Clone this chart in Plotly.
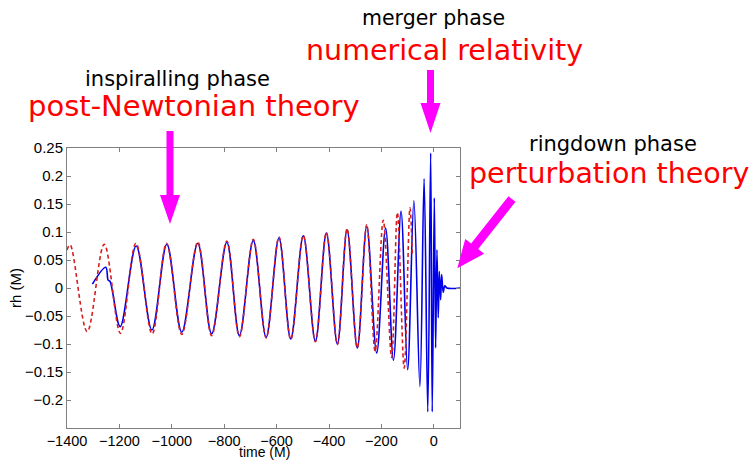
import plotly.graph_objects as go

# ---- data (extrema of the waveforms) ----
nr_time = [-1303, -1252, -1243, -1236, -1197, -1136, -1076, -1019, -962, -901,
           -848, -790, -742, -689, -640, -591, -546, -498, -452, -410,
           -368, -331, -292, -256, -218, -184, -154, -125, -100, -76,
           -53, -37, -23, -12, -6, 2, 7, 12, 17, 21,
           26, 30, 36, 42, 50, 100]
nr_rh = [0.007, 0.037, 0.014, 0.012, -0.069, 0.075, -0.075, 0.078, -0.079, 0.080,
         -0.082, 0.082, -0.085, 0.085, -0.088, 0.089, -0.091, 0.093, -0.095, 0.098,
         -0.100, 0.104, -0.107, 0.110, -0.116, 0.107, -0.129, 0.137, -0.146, 0.156,
         -0.176, 0.195, -0.221, 0.241, -0.221, 0.161, -0.107, 0.068, -0.053, 0.030,
         -0.021, 0.024, -0.008, 0.004, 0.0, 0.0]

pn_time = [-1400, -1388, -1323, -1258, -1196, -1137, -1075, -1020, -962, -901,
           -848, -790, -742, -689, -640, -591, -546, -498, -452, -410,
           -368, -331, -292, -256, -224, -193, -161, -139, -113, -91, -82]
pn_rh = [0.068, 0.077, -0.078, 0.078, -0.081, 0.080, -0.082, 0.080, -0.083, 0.082,
         -0.085, 0.084, -0.087, 0.087, -0.089, 0.091, -0.092, 0.094, -0.096, 0.099,
         -0.101, 0.106, -0.107, 0.113, -0.113, 0.121, -0.124, 0.135, -0.143, 0.143, 0.06]

x_ticks = [-1400, -1200, -1000, -800, -600, -400, -200, 0]
x_ticklabels = ["\u22121400", "\u22121200", "\u22121000", "\u2212800", "\u2212600", "\u2212400", "\u2212200", "0"]
y_ticks = [-0.2, -0.15, -0.1, -0.05, 0, 0.05, 0.1, 0.15, 0.2, 0.25]
y_ticklabels = ["\u22120.2", "\u22120.15", "\u22120.1", "\u22120.05", "0", "0.05", "0.1", "0.15", "0.2", "0.25"]

# ---- layout geometry (pixels) ----
W, H = 754, 461
L, R, T, B = 67, 460, 148, 428


def pxx(x):
    return (x - L) / (R - L)


def pxy(y):
    return (B - y) / (B - T)


def arrow_path(tail, tip, shaft_hw, head_len, head_hw):
    tx, ty = tail
    hx, hy = tip
    dx, dy = hx - tx, hy - ty
    n = (dx * dx + dy * dy) ** 0.5
    ux, uy = dx / n, dy / n
    nx, ny = -uy, ux
    bx, by = hx - ux * head_len, hy - uy * head_len
    pts = [
        (tx + nx * shaft_hw, ty + ny * shaft_hw),
        (bx + nx * shaft_hw, by + ny * shaft_hw),
        (bx + nx * head_hw, by + ny * head_hw),
        (hx, hy),
        (bx - nx * head_hw, by - ny * head_hw),
        (bx - nx * shaft_hw, by - ny * shaft_hw),
        (tx - nx * shaft_hw, ty - ny * shaft_hw),
    ]
    s = "M " + " L ".join(f"{pxx(x):.5f},{pxy(y):.5f}" for x, y in pts) + " Z"
    return s


fig = go.Figure()
fig.add_trace(go.Scatter(x=nr_time, y=nr_rh, mode="lines",
                         line=dict(color="rgb(0,0,235)", width=1.6, shape="spline", smoothing=1.0),
                         showlegend=False, hoverinfo="skip"))
fig.add_trace(go.Scatter(x=pn_time, y=pn_rh, mode="lines",
                         line=dict(color="rgb(215,30,30)", width=1.6, dash="4px,3px", shape="spline", smoothing=1.0),
                         showlegend=False, hoverinfo="skip"))

axis_common = dict(showline=True, mirror="ticks", linecolor="#808080", linewidth=1,
                   ticks="inside", ticklen=4, tickcolor="#808080", showgrid=False,
                   zeroline=False)

fig.update_xaxes(range=[-1400, 100], tickmode="array", tickvals=x_ticks, ticktext=x_ticklabels,
                 tickfont=dict(family="Liberation Sans", size=14.5, color="black"),
                 **axis_common)
fig.update_yaxes(range=[-0.25, 0.25], tickmode="array", tickvals=y_ticks, ticktext=y_ticklabels,
                 tickfont=dict(family="Liberation Sans", size=15, color="black"),
                 ticklabelstandoff=0, **axis_common)

ann = []


def add_text(text, cx, cy, size, color, family="DejaVu Sans", angle=0):
    ann.append(dict(text=text, x=pxx(cx), y=pxy(cy), xref="paper", yref="paper",
                    xanchor="center", yanchor="middle", showarrow=False, textangle=angle,
                    font=dict(family=family, size=size, color=color)))


add_text("merger phase", 433, 18, 20.5, "black")
add_text("numerical relativity", 444, 50.5, 28.5, "red")
add_text("inspiralling phase", 177, 79, 21, "black")
add_text("post-Newtonian theory", 194, 106, 29, "red")
add_text("ringdown phase", 612.5, 144, 21, "black")
add_text("perturbation theory", 609, 173, 28.5, "red")
add_text("time (M)", 264, 452, 14, "black", family="Liberation Sans")
add_text("rh (M)", 15, 288, 15, "black", family="Liberation Sans", angle=-90)

shapes = []
for tail, tip, shw, hl, hhw in [((170, 131), (170, 224), 3.5, 29, 10),
                                ((430.5, 70), (430.5, 133), 3.5, 30, 10),
                                ((512, 199), (457.3, 268.3), 4.5, 28, 12)]:
    shapes.append(dict(type="path", xref="paper", yref="paper",
                       path=arrow_path(tail, tip, shw, hl, hhw),
                       fillcolor="#ff00ff", line=dict(width=0)))

fig.update_layout(width=W, height=H, autosize=False,
                  margin=dict(l=L, r=W - R, t=T, b=H - B, pad=0),
                  paper_bgcolor="white", plot_bgcolor="white",
                  annotations=ann, shapes=shapes)

fig.write_html("out.html", config={"displayModeBar": False},
               post_script="document.body.style.margin='0';document.body.style.overflow='hidden';")
